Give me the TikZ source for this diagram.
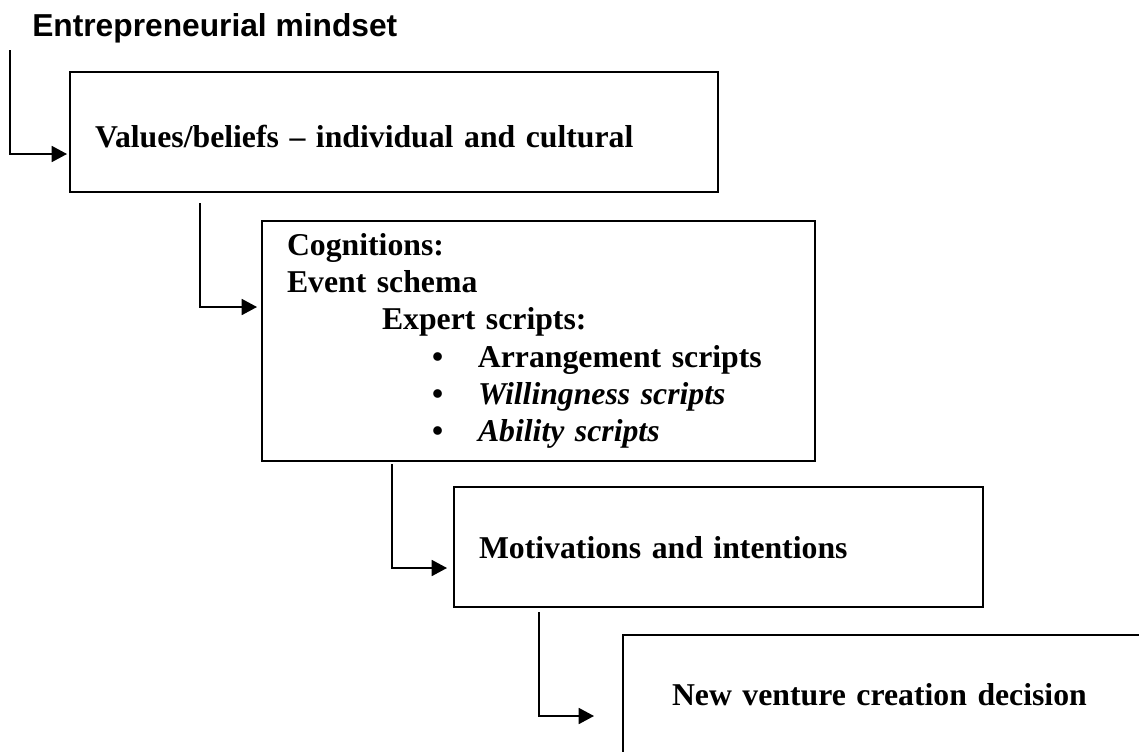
\documentclass[tikz,border=0pt]{standalone}
\usepackage{fontspec}
\setmainfont{Liberation Serif}
\newfontfamily\arialfont{Liberation Sans}
\usetikzlibrary{arrows.meta,calc}

\tikzset{
    stage/.style={draw, line width=1.3pt, anchor=north west, outer sep=0pt, inner xsep=18.75pt, inner ysep=0pt, align=left, font=\bfseries\fontsize{23.8}{28}\selectfont},
    flow/.style={-{Triangle[length=11.5pt,width=12pt]}, line width=1.3pt}
}

\begin{document}
\begin{tikzpicture}[x=0.75pt, y=0.75pt]
        \useasboundingbox (0, 0) rectangle (1139, -751);
        \clip (0, 0) rectangle (1139, -751);

        \node[anchor=base west, inner sep=0pt, font=\arialfont\bfseries\fontsize{23.8}{28}\selectfont] (title) at (32, -36) {Entrepreneurial mindset};

        \node[stage, text width=448.5pt, minimum height=90pt, text height=22.5pt, text depth=0pt] (vb) at (70, -72) {Values/beliefs -- individual and cultural};
        \node[stage, text width=377.25pt, minimum height=180pt] (cog) at (262, -221) {Cognitions:\\
            Event schema\\
            \hspace*{71.25pt}Expert scripts:\\
            \hspace*{108.75pt}\makebox[34.5pt][l]{\textbullet}Arrangement scripts\\
            \hspace*{108.75pt}\makebox[34.5pt][l]{\textbullet}\textit{Willingness scripts}\\
            \hspace*{108.75pt}\makebox[34.5pt][l]{\textbullet}\textit{Ability scripts}};
        \node[stage, text width=359.25pt, minimum height=90pt, text height=16.5pt, text depth=0pt] (mot) at (454, -487) {Motivations and intentions};
        \node[stage, inner xsep=36.75pt, text width=376.5pt, minimum height=90pt, text height=15pt, text depth=0pt] (nv) at (623, -635) {New venture creation decision};

        \draw[flow] ($(title.base west)+(-22, -14)$) |- ($(vb.west)+(-3, -22)$);
        \draw[flow] ($(vb.south west)+(130, -11)$) |- ($(cog.west)+(-5, 34)$);
        \draw[flow] ($(cog.south west)+(130, -3)$) |- ($(mot.west)+(-7, -21)$);
        \draw[flow] ($(mot.south west)+(85, -5)$) |- ($(nv.west)+(-29, -21)$);
    \end{tikzpicture}
\end{document}
